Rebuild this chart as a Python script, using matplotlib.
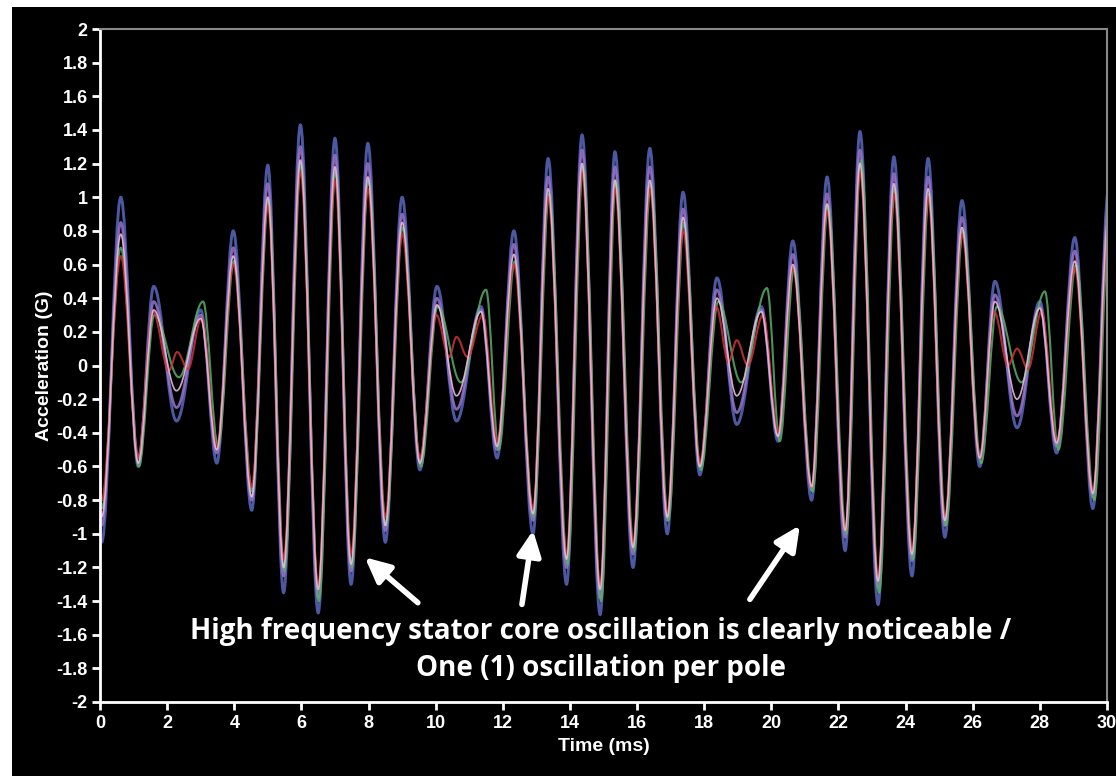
import matplotlib
matplotlib.use("Agg")
import matplotlib.pyplot as plt
from matplotlib.path import Path
from matplotlib.patches import PathPatch, Rectangle

# extrema (peaks / troughs), time in ms, acceleration in G
t_ext = [0.05, 0.62, 1.14, 1.60, 2.28, 3.00, 3.48, 3.97, 4.52, 5.00,
         5.47, 5.97, 6.50, 7.00, 7.48, 7.98, 8.50, 9.00, 9.53, 10.04,
         10.62, 11.35, 11.83, 12.33, 12.90, 13.35, 13.90, 14.36, 14.90, 15.34,
         15.88, 16.38, 16.90, 17.37, 17.87, 18.38, 18.97, 19.70, 20.20, 20.64,
         21.20, 21.66, 22.20, 22.64, 23.18, 23.65, 24.19, 24.67, 25.17, 25.68,
         26.21, 26.66, 27.32, 28.00, 28.50, 29.04, 29.58, 30.05]

blue = [-1.05, 1.00, -0.60, 0.47, -0.33, 0.33, -0.58, 0.80, -0.86, 1.19,
        -1.35, 1.43, -1.47, 1.35, -1.30, 1.32, -1.05, 1.00, -0.62, 0.47,
        -0.33, 0.35, -0.55, 0.80, -1.00, 1.23, -1.30, 1.37, -1.48, 1.27,
        -1.20, 1.29, -1.00, 1.03, -0.65, 0.52, -0.35, 0.35, -0.45, 0.74,
        -0.80, 1.12, -1.10, 1.39, -1.42, 1.24, -1.25, 1.23, -1.02, 0.98,
        -0.60, 0.50, -0.37, 0.38, -0.52, 0.76, -0.85, 1.05]

purple = [-0.95, 0.85, -0.55, 0.38, -0.25, 0.30, -0.52, 0.70, -0.80, 1.08,
          -1.25, 1.30, -1.38, 1.25, -1.22, 1.20, -0.98, 0.90, -0.57, 0.40,
          -0.26, 0.33, -0.50, 0.72, -0.92, 1.12, -1.20, 1.28, -1.38, 1.18,
          -1.12, 1.18, -0.92, 0.93, -0.60, 0.45, -0.28, 0.33, -0.42, 0.66,
          -0.74, 1.02, -1.02, 1.28, -1.32, 1.14, -1.16, 1.12, -0.95, 0.88,
          -0.55, 0.42, -0.30, 0.35, -0.48, 0.68, -0.78, 0.95]

pink = [-0.90, 0.78, -0.58, 0.33, -0.15, 0.28, -0.50, 0.65, -0.78, 1.00,
        -1.20, 1.22, -1.33, 1.18, -1.18, 1.12, -0.95, 0.85, -0.58, 0.36,
        -0.18, 0.32, -0.48, 0.66, -0.88, 1.05, -1.15, 1.20, -1.33, 1.10,
        -1.08, 1.10, -0.90, 0.88, -0.60, 0.40, -0.18, 0.32, -0.42, 0.60,
        -0.72, 0.96, -0.98, 1.20, -1.28, 1.08, -1.12, 1.05, -0.92, 0.82,
        -0.55, 0.38, -0.20, 0.34, -0.46, 0.62, -0.76, 0.90]

t_green = [0.05, 0.62, 1.16, 1.62, 2.35, 3.07, 3.52, 3.99, 4.54, 5.02,
           5.49, 5.99, 6.52, 7.02, 7.50, 8.00, 8.52, 9.02, 9.56, 10.06,
           10.75, 11.50, 11.88, 12.36, 12.92, 13.38, 13.93, 14.39, 14.93, 15.37,
           15.91, 16.41, 16.93, 17.40, 17.90, 18.42, 19.10, 19.87, 20.25, 20.68,
           21.23, 21.69, 22.23, 22.67, 23.21, 23.68, 24.22, 24.70, 25.20, 25.71,
           26.25, 26.72, 27.45, 28.15, 28.55, 29.08, 29.62, 30.08]

green = [-0.85, 0.70, -0.60, 0.30, -0.07, 0.38, -0.48, 0.62, -0.75, 0.98,
         -1.22, 1.20, -1.40, 1.15, -1.20, 1.10, -0.95, 0.82, -0.60, 0.35,
         -0.10, 0.45, -0.50, 0.62, -0.90, 1.02, -1.18, 1.18, -1.40, 1.10,
         -1.10, 1.08, -0.92, 0.85, -0.62, 0.38, -0.10, 0.46, -0.45, 0.58,
         -0.75, 0.95, -1.00, 1.22, -1.35, 1.05, -1.15, 1.02, -0.95, 0.80,
         -0.58, 0.35, -0.10, 0.44, -0.50, 0.60, -0.80, 0.88]

t_red = [0.05, 0.62, 1.14, 1.58, 2.05, 2.30, 2.62, 3.02, 3.48, 3.97,
         4.52, 5.00, 5.47, 5.97, 6.50, 7.00, 7.48, 7.98, 8.50, 9.00,
         9.53, 10.02, 10.40, 10.62, 10.95, 11.40, 11.83, 12.33, 12.90, 13.35,
         13.90, 14.36, 14.90, 15.34, 15.88, 16.38, 16.90, 17.37, 17.87, 18.36,
         18.72, 18.97, 19.30, 19.75, 20.20, 20.64, 21.20, 21.66, 22.20, 22.64,
         23.18, 23.65, 24.19, 24.67, 25.17, 25.68, 26.21, 26.64, 27.05, 27.32,
         27.65, 28.05, 28.50, 29.04, 29.58, 30.05]

red = [-0.80, 0.65, -0.55, 0.32, -0.03, 0.08, -0.02, 0.28, -0.48, 0.60,
       -0.72, 0.95, -1.15, 1.15, -1.30, 1.10, -1.12, 1.05, -0.90, 0.78,
       -0.55, 0.30, 0.05, 0.17, 0.05, 0.30, -0.45, 0.60, -0.85, 1.00,
       -1.12, 1.15, -1.30, 1.05, -1.05, 1.05, -0.88, 0.80, -0.58, 0.35,
       0.02, 0.15, 0.00, 0.30, -0.40, 0.58, -0.72, 0.92, -0.98, 1.15,
       -1.25, 1.02, -1.10, 1.00, -0.90, 0.78, -0.55, 0.32, 0.00, 0.10,
       -0.02, 0.32, -0.45, 0.58, -0.75, 0.85]

x_ticks = list(range(0, 31, 2))
y_ticks = [2, 1.8, 1.6, 1.4, 1.2, 1, 0.8, 0.6, 0.4, 0.2, 0,
           -0.2, -0.4, -0.6, -0.8, -1, -1.2, -1.4, -1.6, -1.8, -2]
y_labels = ["2", "1.8", "1.6", "1.4", "1.2", "1", "0.8", "0.6", "0.4", "0.2", "0",
            "-0.2", "-0.4", "-0.6", "-0.8", "-1", "-1.2", "-1.4", "-1.6", "-1.8", "-2"]

note = "High frequency stator core oscillation is clearly noticeable /\nOne (1) oscillation per pole"


def smooth_path(t, v, k=0.36):
    # cubic bezier segments with flat tangents at each peak/trough
    verts = [(t[0], v[0])]
    codes = [Path.MOVETO]
    for i in range(len(t) - 1):
        dt = t[i + 1] - t[i]
        verts += [(t[i] + k * dt, v[i]), (t[i + 1] - k * dt, v[i + 1]), (t[i + 1], v[i + 1])]
        codes += [Path.CURVE4] * 3
    return Path(verts, codes)


fig = plt.figure(figsize=(11.16, 7.76), dpi=100, facecolor="black")
# thin white margin on the left and top of the picture
fig.patches.append(Rectangle((0, 0), 12 / 1116, 1, transform=fig.transFigure,
                             facecolor="white", edgecolor="none", zorder=-10))
fig.patches.append(Rectangle((0, 1 - 7 / 776), 1, 7 / 776, transform=fig.transFigure,
                             facecolor="white", edgecolor="none", zorder=-10))
ax = fig.add_axes([100 / 1116, 74 / 776, 1007 / 1116, 673 / 776])
ax.set_facecolor("black")

traces = [
    (t_ext, blue, "#5562b4", 2.1, 0.9),
    (t_ext, purple, "#9a74cc", 1.9, 0.85),
    (t_green, green, "#5aae6a", 1.5, 0.85),
    (t_red, red, "#cc3436", 1.5, 0.85),
    (t_ext, pink, "#e6bcd8", 1.2, 0.9),
]
for tt, vv, col, lw, a in traces:
    ax.add_patch(PathPatch(smooth_path(tt, vv), fill=False, edgecolor=col,
                           lw=lw, alpha=a))

ax.set_xlim(0, 30)
ax.set_ylim(-2, 2)
ax.set_xticks(x_ticks)
ax.set_yticks(y_ticks)
ax.set_yticklabels(y_labels)

for lab in ax.get_xticklabels() + ax.get_yticklabels():
    lab.set_fontfamily("Liberation Sans")
    lab.set_fontweight("bold")
    lab.set_fontsize(13)
ax.tick_params(colors="white", length=6, width=2, pad=3, labelcolor="white")

ax.spines["left"].set_color("white")
ax.spines["bottom"].set_color("white")
ax.spines["left"].set_linewidth(2)
ax.spines["bottom"].set_linewidth(2)
ax.spines["top"].set_color("#888888")
ax.spines["right"].set_color("#888888")
ax.spines["top"].set_linewidth(1.5)
ax.spines["right"].set_linewidth(1.5)

label_font = {"family": "Liberation Sans", "weight": "bold", "size": 14}
ax.set_xlabel("Time (ms)", color="white", fontdict=label_font, labelpad=5)
ax.set_ylabel("Acceleration (G)", color="white", fontdict=label_font, labelpad=2)

arrow_style = dict(arrowstyle="-|>,head_length=0.75,head_width=0.36", color="white",
                   lw=4, shrinkA=0, shrinkB=0, mutation_scale=20)
ax.annotate("", xy=(7.89, -1.14), xytext=(9.47, -1.41), arrowprops=arrow_style)
ax.annotate("", xy=(12.90, -0.98), xytext=(12.57, -1.42), arrowprops=arrow_style)
ax.annotate("", xy=(20.85, -0.95), xytext=(19.36, -1.39), arrowprops=arrow_style)

ax.text(14.92, -1.69, note, color="white", ha="center", va="center",
        family="Open Sans", weight="bold", size=20, linespacing=1.35)

fig.savefig("out.png", dpi=100, facecolor=fig.get_facecolor())
